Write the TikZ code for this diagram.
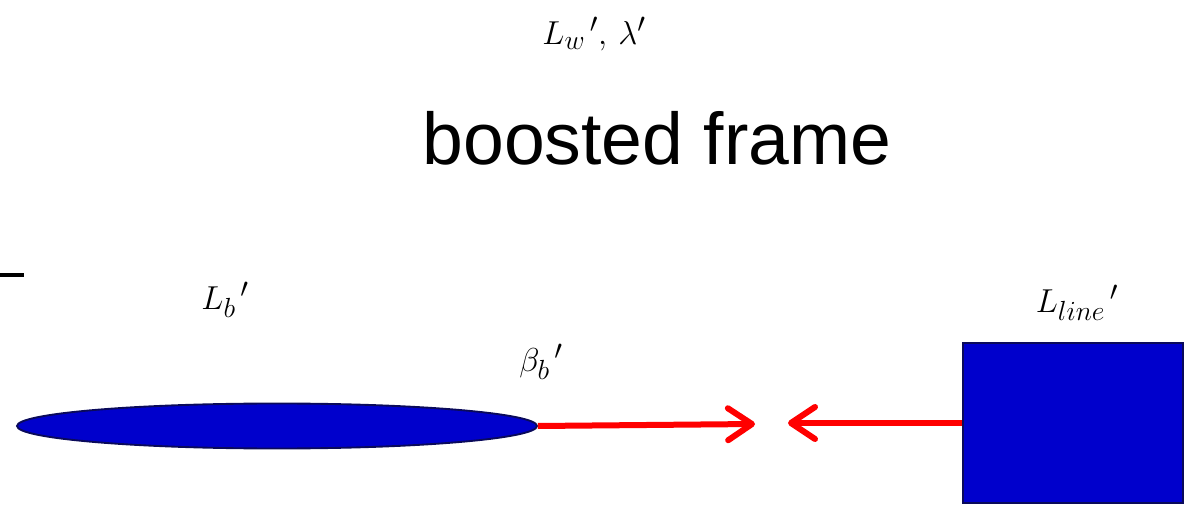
\documentclass[tikz,border=0pt]{standalone}
\usepackage{fontspec}
\newfontfamily\sansf{Liberation Sans}
\usetikzlibrary{shapes.geometric,arrows.meta}
\definecolor{fillblue}{RGB}{0,0,204}
\definecolor{navy}{RGB}{10,10,90}
\definecolor{arrred}{RGB}{255,0,0}
\begin{document}
\begin{tikzpicture}[x=0.75pt,y=-0.75pt,
  bodyfill/.style={fill=fillblue,draw=navy,line width=1.4pt,inner sep=0pt},
  redarrow/.style={draw=arrred,line width=4.5pt,-{Straight Barb[length=18pt,width=24pt,round]}},
  mathlabel/.style={anchor=base,inner sep=0pt,font=\fontsize{30}{34}\selectfont}]
\useasboundingbox (0,0) rectangle (1191,505);
% top labels
\node[mathlabel] (lw) at (594,45) {$L_{w}{}^{\,\prime},\,\lambda'$};
\node[anchor=base,inner sep=0pt,font=\sansf\fontsize{55}{60}\selectfont] (title) at (657,165) {boosted frame};
% left dash
\draw[line width=3.2pt] (0,275) -- (24,275);
% bunch
\node[bodyfill,ellipse,minimum width=390pt,minimum height=33.75pt] (bunch) at (277,426) {};
\node[mathlabel] (lb) at (225,310) {$L_{b}{}^{\,\prime}$};
\node[mathlabel] (bb) at (541,372) {$\beta_{b}{}^{\,\prime}$};
% line
\node[bodyfill,rectangle,minimum width=165pt,minimum height=120pt] (line) at (1073,423) {};
\node[mathlabel] (ll) at (1077,313) {$L_{line}{}^{\,\prime}$};
% arrows
\coordinate (tipL) at (755,424);
\coordinate (tipR) at (788,423);
\draw[redarrow] (bunch.east) -- (tipL);
\draw[redarrow] (line.west) -- (tipR);
\end{tikzpicture}
\end{document}
